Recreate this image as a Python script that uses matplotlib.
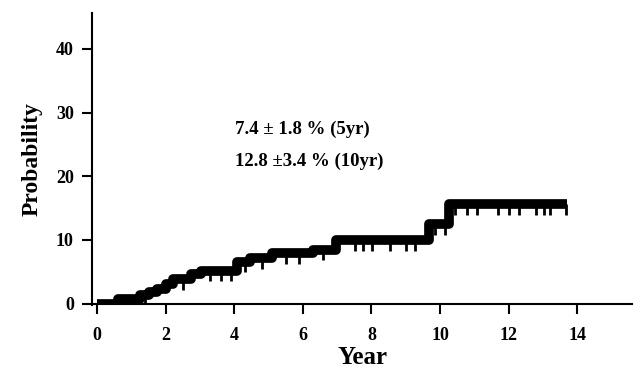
import matplotlib
matplotlib.use("Agg")
import matplotlib.pyplot as plt

# step curve: event times (years) and cumulative probability (%) after each step
step_times = [0.0, 0.6, 1.25, 1.5, 1.75, 2.0, 2.2, 2.75, 3.03, 4.08, 4.47, 5.1, 6.3, 6.97, 9.68, 10.26, 13.7]
step_values = [0.0, 0.8, 1.3, 1.8, 2.3, 3.1, 3.8, 4.6, 5.2, 6.6, 7.2, 8.0, 8.5, 10.0, 12.5, 15.6, 15.6]

# censored observations (years)
censor_times = [0.3, 1.0, 1.4, 2.5, 3.3, 3.6, 3.9, 4.3, 4.8, 5.5, 5.9, 6.6,
                7.51, 7.75, 8.03, 8.53, 9.0, 9.28, 9.86, 10.14,
                10.43, 10.78, 11.07, 11.7, 12.0, 12.3, 12.8, 13.03, 13.2, 13.67]

annot_lines = ["7.4 \u00b1 1.8 % (5yr)", "12.8 \u00b13.4 % (10yr)"]

plt.rcParams['font.family'] = ['Liberation Serif', 'DejaVu Serif']

fig = plt.figure(figsize=(6.34, 3.76), dpi=100)
ax = fig.add_axes([0.145, 0.189, 0.852, 0.776])

ax.step(step_times, step_values, where='post', color='black', lw=7, solid_capstyle='butt')


def value_at(t):
    v = step_values[0]
    for st, sv in zip(step_times, step_values):
        if st <= t:
            v = sv
    return v


for t in censor_times:
    v = value_at(t)
    ax.vlines(t, v - 1.7, v, color='black', lw=2)

ax.text(4.02, 27.3, annot_lines[0], fontsize=13.5, fontweight='bold', va='center')
ax.text(4.02, 22.3, annot_lines[1], fontsize=13.5, fontweight='bold', va='center')

ax.set_xlim(-0.15, 15.6)
ax.set_ylim(-0.2, 45.6)
ax.set_xticks(range(0, 15, 2))
ax.set_yticks(range(0, 41, 10))
ax.spines['top'].set_visible(False)
ax.spines['right'].set_visible(False)
ax.spines['left'].set_linewidth(1.5)
ax.spines['bottom'].set_linewidth(1.5)
ax.spines['bottom'].set_position(('data', 0))
ax.tick_params(direction='out', length=7, width=1.5, labelsize=13)
for lbl in ax.get_xticklabels() + ax.get_yticklabels():
    lbl.set_fontweight('bold')
ax.tick_params(axis='x', pad=10)
ax.tick_params(axis='y', pad=6)

ax.set_xlabel("Year", fontsize=18, fontweight='bold', labelpad=1)
ax.set_ylabel("Probability", fontsize=17, fontweight='bold', labelpad=10)

fig.savefig("out.png", dpi=100)
